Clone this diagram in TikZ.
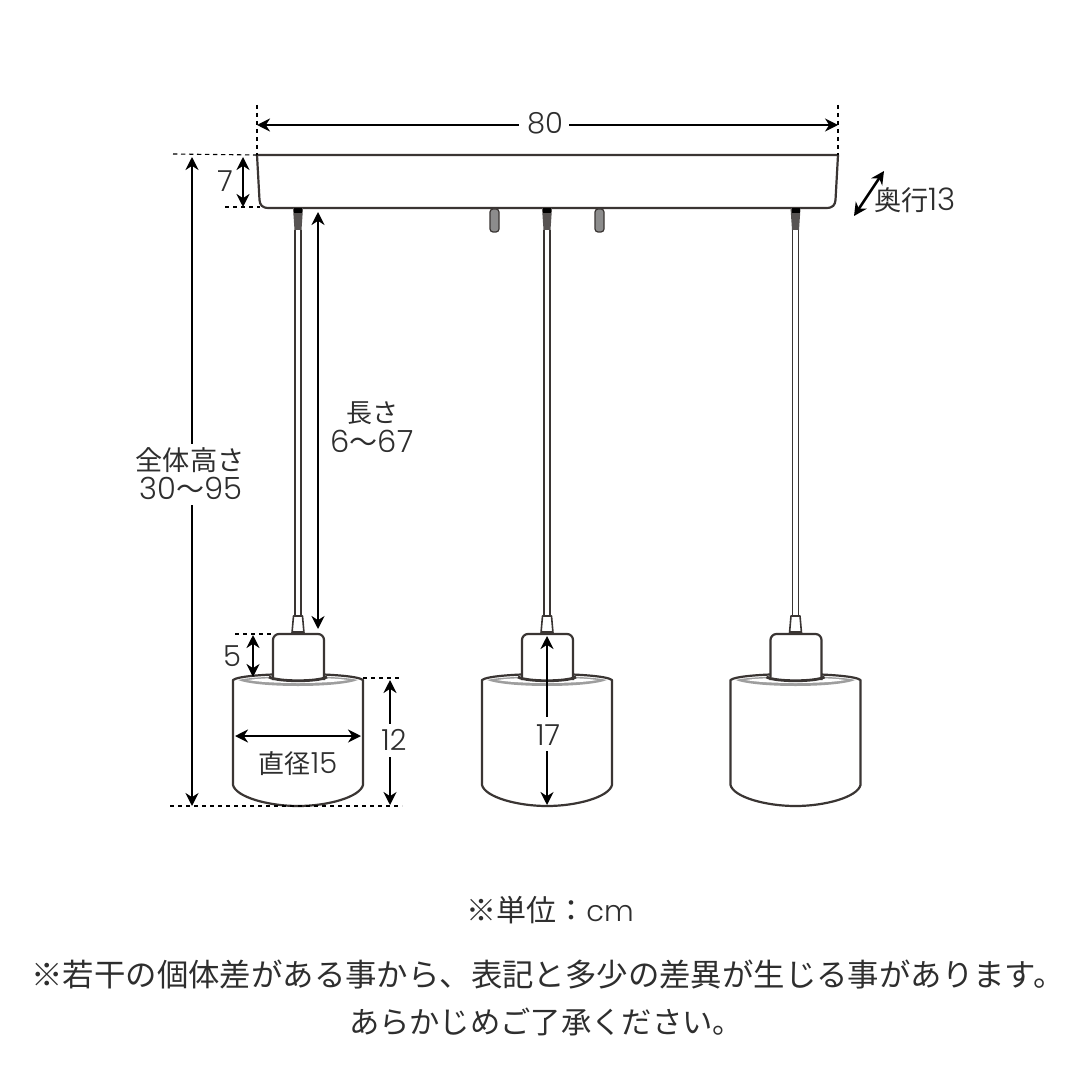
\documentclass[tikz,border=0pt]{standalone}
\usepackage{fontspec}
\setmainfont{Poppins Light}[BoldFont=Poppins]
\newfontfamily\jp{Noto Sans CJK JP}[Scale=1]
\newcommand{\dig}[1]{{\fontsize{14.5pt}{16pt}\rmfamily #1}}
\newcommand{\digb}[1]{{\fontsize{15.5pt}{16pt}\rmfamily #1}}
\usetikzlibrary{arrows.meta}
\definecolor{ink}{HTML}{3A3533}
\definecolor{txt}{HTML}{2E2E2E}
\tikzset{
  outline/.style={draw=ink,line width=1.1pt,fill=white,line join=round},
  thin outline/.style={draw=ink,line width=.8pt},
  dim/.style={draw=black,line width=1.3pt,{Stealth[length=6.5pt,width=6.5pt]}-{Stealth[length=6.5pt,width=6.5pt]}},
  dimstart/.style={draw=black,line width=1.3pt,{Stealth[length=6.5pt,width=6.5pt]}-},
  dimend/.style={draw=black,line width=1.3pt,-{Stealth[length=6.5pt,width=6.5pt]}},
  guide/.style={draw=black,line width=.55pt,dash pattern=on 2.2pt off 1.8pt},
  label/.style={inner sep=0pt,text=txt,font=\fontsize{14.5pt}{16pt}\selectfont,align=center},
  biglabel/.style={inner sep=0pt,text=txt,font=\fontsize{15.3pt}{16pt}\selectfont,align=center},
  jlabel/.style={inner sep=0pt,text=txt,font=\jp\fontsize{13pt}{14pt}\selectfont,align=center},
  note/.style={inner sep=0pt,text=txt,font=\jp\fontsize{15pt}{16pt}\selectfont},
  lamp/.pic={
    % cord fitting at the canopy
    \fill[ink!85] (-5,208) -- (5,208) -- (3.5,230) -- (-3.5,230) -- cycle;
    \fill[black] (-4,208) rectangle (4,213);
    \draw[thin outline] (-3,230) -- (-3,616) (3,230) -- (3,616);
    % shade
    \draw[outline] (-65,680) -- (-65,785) .. controls (-62,797) and (-30,806) .. (0,806)
      .. controls (30,806) and (62,797) .. (65,785) -- (65,680)
      .. controls (60,676) and (30,674) .. (0,674) .. controls (-30,674) and (-60,676) .. (-65,680) -- cycle;
    \fill[black!38] (-60,680) .. controls (-40,675) and (40,675) .. (60,680)
      .. controls (40,688) and (-40,688) .. (-60,680) -- cycle;
    \fill[white] (-50,680) .. controls (-30,677) and (30,677) .. (50,680)
      .. controls (30,684) and (-30,684) .. (-50,680) -- cycle;
    % cap
    \draw[outline,rounded corners=3pt] (-25,680) -- (-25,634) -- (26,634) -- (26,680);
    \draw[draw=ink,line width=1.4pt,fill=white] (-29,677) .. controls (-20,682) and (20,682) .. (29,677);
    % strain relief
    \draw[outline,line width=.8pt] (-6,633) -- (-4.5,616) -- (4.5,616) -- (6,633) -- cycle;
    \fill[ink] (-6,631) rectangle (6,634);
  }
}
\begin{document}
\begin{tikzpicture}[x=.5pt,y=-.5pt]
\useasboundingbox (0,0) rectangle (1080,1080);
\fill[white] (0,0) rectangle (1080,1080);

% named anchor points
\coordinate (canL) at (257,155);
\coordinate (canR) at (838,155);
\coordinate (gTopL) at (257,105);
\coordinate (gTopR) at (838,105);

% canopy
\draw[outline] (canL) -- (canR) -- (835.5,200) .. controls (835,205) and (833,208) .. (826,208)
  -- (269,208) .. controls (262,208) and (260,205) .. (259.5,200) -- cycle;

% pegs
\draw[draw=ink,line width=.6pt,fill=black!45,rounded corners=1.5pt] (490,209) rectangle (499,232);
\draw[draw=ink,line width=.6pt,fill=black!45,rounded corners=1.5pt] (595,209) rectangle (604,232);

% lamps
\pic at (298,0) {lamp};
\pic at (547,0) {lamp};
\pic at (795.5,0) {lamp};

% guides
\draw[guide] (gTopL) -- (canL);
\draw[guide] (gTopR) -- (canR);
\coordinate (g1a) at (173,154); \draw[guide] (g1a) -- (canL);
\coordinate (g2a) at (225,207); \coordinate (g2b) at (260,207); \draw[guide] (g2a) -- (g2b);
\coordinate (g3a) at (235,634); \coordinate (g3b) at (273,634); \draw[guide] (g3a) -- (g3b);
\coordinate (g4a) at (363,678); \coordinate (g4b) at (402,678); \draw[guide] (g4a) -- (g4b);
\coordinate (g5a) at (170,806); \coordinate (g5b) at (402,806); \draw[guide] (g5a) -- (g5b);

% width 80
\node[label] (n80) at (545,123) {80};
\coordinate (a80l) at (257,125); \coordinate (a80r) at (838,125);
\coordinate (a80m1) at (519,125); \coordinate (a80m2) at (569,125);
\draw[dimstart] (a80l) -- (a80m1);
\draw[dimend] (a80m2) -- (a80r);

% 7
\node[label] (n7) at (225,181) {7};
\coordinate (a7t) at (243,157); \coordinate (a7b) at (243,207);
\draw[dim] (a7t) -- (a7b);

% depth
\node[jlabel,anchor=west,font=\jp\fontsize{13.6pt}{14pt}\selectfont] (ndepth) at (874,200) {奥行\digb{13}};
\coordinate (adl) at (854,216); \coordinate (adr) at (884,171);
\draw[dim] (adl) -- (adr);

% overall height
\node[jlabel,font=\jp\fontsize{13.6pt}{14pt}\selectfont] (nh1) at (190,460) {全体高さ};
\node[biglabel] (nh2) at (191,488) {30{\jp\fontsize{14pt}{14pt}\selectfont 〜}95};
\coordinate (aht) at (192,157); \coordinate (ahb) at (192,806);
\coordinate (ahm1) at (192,444); \coordinate (ahm2) at (192,505);
\draw[dimstart] (aht) -- (ahm1);
\draw[dimend] (ahm2) -- (ahb);

% cord length
\node[jlabel] (nl1) at (372,413) {長さ};
\node[biglabel] (nl2) at (372,441) {6{\jp\fontsize{14pt}{14pt}\selectfont 〜}67};
\coordinate (alt) at (318,212); \coordinate (alb) at (318,629);
\draw[dim] (alt) -- (alb);

% 5
\node[label] (n5) at (232,656) {5};
\coordinate (a5t) at (253,635); \coordinate (a5b) at (253,677);
\draw[dim] (a5t) -- (a5b);

% diameter
\node[jlabel] (nd) at (298,764) {直径\dig{15}};
\coordinate (adiaL) at (235,736); \coordinate (adiaR) at (361,736);
\draw[dim] (adiaL) -- (adiaR);

% 12
\node[label] (n12) at (394,740) {12};
\coordinate (a12t) at (390,680); \coordinate (a12b) at (390,805);
\coordinate (a12m1) at (390,724); \coordinate (a12m2) at (390,757);
\draw[dimstart] (a12t) -- (a12m1);
\draw[dimend] (a12m2) -- (a12b);

% 17
\node[label] (n17) at (548,735) {17};
\coordinate (a17t) at (547,636); \coordinate (a17b) at (547,805);
\coordinate (a17m1) at (547,717); \coordinate (a17m2) at (547,751);
\draw[dimstart] (a17t) -- (a17m1);
\draw[dimend] (a17m2) -- (a17b);

% notes
\node[note] (un) at (550,910) {※単位：\dig{cm}};
\node[note,font=\jp\fontsize{15.7pt}{16pt}\selectfont] (l1) at (548,975) {※若干の個体差がある事から、表記と多少の差異が生じる事があります。};
\node[note,font=\jp\fontsize{15.15pt}{16pt}\selectfont] (l2) at (546,1022) {あらかじめご了承ください。};
\end{tikzpicture}
\end{document}
